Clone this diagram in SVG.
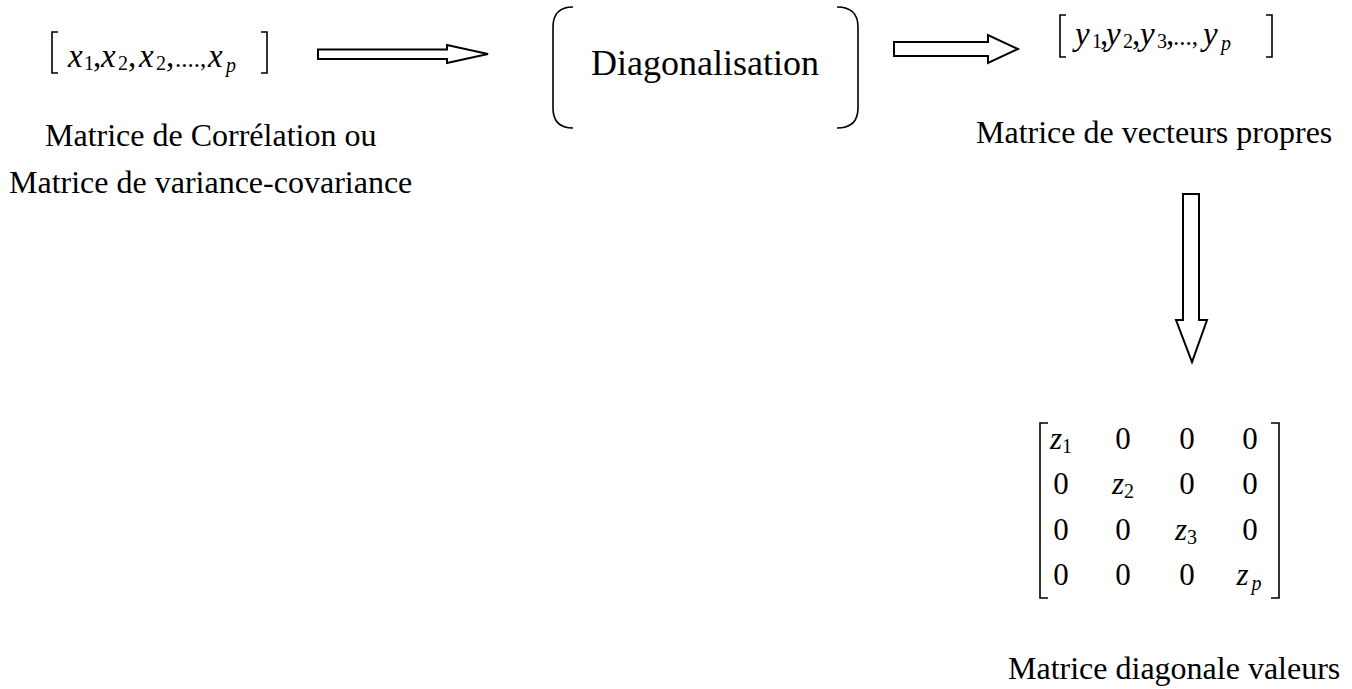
<svg xmlns="http://www.w3.org/2000/svg" width="1352" height="689" viewBox="0 0 1352 689">
<style>
.lbl{font-family:"Liberation Serif","Times New Roman",serif;font-size:32px;fill:#000}
.big{font-family:"Liberation Serif","Times New Roman",serif;font-size:36px;fill:#000}
.m{font-family:"Liberation Serif","Times New Roman",serif;font-size:33px;fill:#000}
.mz{font-family:"Liberation Serif","Times New Roman",serif;font-size:31px;fill:#000}
.i{font-style:italic}
.s{font-size:20px}
.br{fill:none;stroke:#000;stroke-width:1.6}
.arr{fill:#fff;stroke:#000;stroke-width:2;stroke-linejoin:miter}
</style>
<rect width="1352" height="689" fill="#fff"/>
<g id="vecX">
<path class="br" d="M58,32 H52 V73 H58 M261,32 H267 V73 H261"/>
<text class="m"><tspan class="i" x="68" y="67">x</tspan><tspan class="s" x="84" y="70">1</tspan><tspan x="93" y="67">,</tspan><tspan class="i" x="101" y="67">x</tspan><tspan class="s" x="118" y="70">2</tspan><tspan x="128" y="67">,</tspan><tspan class="i" x="139" y="67">x</tspan><tspan class="s" x="156" y="70">2</tspan><tspan x="166" y="67">,</tspan><tspan x="175" y="67" font-size="25">....,</tspan><tspan class="i" x="208" y="67">x</tspan><tspan class="s i" x="226" y="72">p</tspan></text>
<text class="lbl" x="45" y="146">Matrice de Corrélation ou</text>
<text class="lbl" x="9" y="193">Matrice de variance-covariance</text>
</g>
<g id="diag">
<path class="br" stroke-width="2" d="M573,7 Q553,7 553,27 V108 Q553,128 573,128 M837,7 Q858,7 858,27 V108 Q858,128 837,128"/>
<text class="big" x="705" y="75" text-anchor="middle">Diagonalisation</text>
</g>
<g id="vecY">
<path class="br" d="M1066,15 H1060 V57 H1066 M1266,15 H1272 V57 H1266"/>
<text class="m"><tspan class="i" x="1075" y="45">y</tspan><tspan class="s" x="1092" y="48">1</tspan><tspan x="1100" y="45">,</tspan><tspan class="i" x="1106" y="45">y</tspan><tspan class="s" x="1123" y="48">2</tspan><tspan x="1132" y="45">,</tspan><tspan class="i" x="1140" y="45">y</tspan><tspan class="s" x="1157" y="48">3</tspan><tspan x="1166" y="45">,</tspan><tspan x="1173" y="45" font-size="25">...,</tspan><tspan class="i" x="1203" y="45">y</tspan><tspan class="s i" x="1221" y="50">p</tspan></text>
<text class="lbl" x="976" y="143">Matrice de vecteurs propres</text>
</g>
<g id="matZ">
<path class="br" d="M1048,423 H1040 V598 H1048 M1271,423 H1279 V598 H1271"/>
<g class="mz" text-anchor="middle">
<text x="1061" y="449"><tspan class="i">z</tspan><tspan class="s" dy="4">1</tspan></text>
<text x="1123" y="449">0</text><text x="1187" y="449">0</text><text x="1250" y="449">0</text>
<text x="1061" y="494">0</text>
<text x="1123" y="494"><tspan class="i">z</tspan><tspan class="s" dy="4">2</tspan></text>
<text x="1187" y="494">0</text><text x="1250" y="494">0</text>
<text x="1061" y="540">0</text><text x="1123" y="540">0</text>
<text x="1186" y="540"><tspan class="i">z</tspan><tspan class="s" dy="4">3</tspan></text>
<text x="1250" y="540">0</text>
<text x="1061" y="585">0</text><text x="1123" y="585">0</text><text x="1187" y="585">0</text>
<text x="1249" y="585"><tspan class="i">z</tspan><tspan class="s i" dx="3" dy="5">p</tspan></text>
</g>
<text class="lbl" x="1008" y="679">Matrice diagonale valeurs</text>
</g>
<g id="connectors">
<path class="arr" d="M318,49.5 H447 V45 L488,54 L447,63 V59 H318 Z"/>
<path class="arr" d="M894,42 H988 V35 L1018,49 L988,63 V56 H894 Z"/>
<path class="arr" d="M1183,194 H1199 V320 H1207 L1192,362 L1176,320 H1183 Z"/>
</g>
</svg>
